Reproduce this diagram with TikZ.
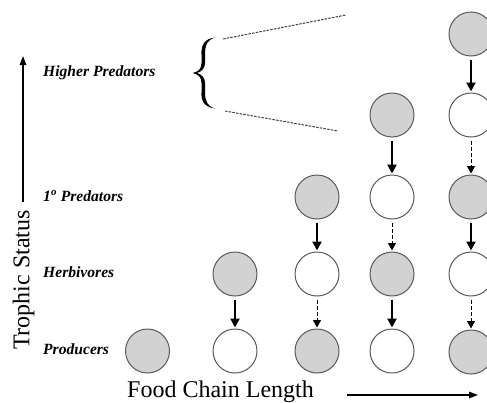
\documentclass[tikz,border=0pt]{standalone}
\usepackage{fontspec}
\setmainfont{Liberation Serif}
\usetikzlibrary{arrows.meta}
\definecolor{cfill}{HTML}{D2D2D2}
\definecolor{cline}{HTML}{5A5A5A}
\tikzset{
  sh/.style={circle,draw=cline,line width=1pt,fill=cfill,minimum size=44pt,inner sep=0pt},
  wh/.style={circle,draw=cline,line width=1pt,fill=white,minimum size=44pt,inner sep=0pt},
  strong/.style={line width=2.2pt,-{Triangle[length=9pt,width=9pt]},shorten <=3pt,shorten >=1pt},
  weak/.style={line width=1pt,dash pattern=on 4pt off 2.2pt,-{Triangle[length=7.5pt,width=8pt]},shorten <=3pt,shorten >=1pt},
  lvl/.style={font=\fontsize{15.6}{18}\selectfont\bfseries\itshape,anchor=base west,inner sep=0pt},
  big/.style={font=\fontsize{24}{28}\selectfont,inner sep=0pt},
  guide/.style={line width=1pt,dash pattern=on 2.5pt off 1.2pt,draw=black!75}
}
\begin{document}
\begin{tikzpicture}[x=1pt,y=-1pt]
\useasboundingbox (0,0) rectangle (487,402);
% level labels
\node[lvl] (lhp) at (43,76) {Higher Predators};
\node[lvl] (l1p) at (43,201) {1\textsuperscript{o} Predators};
\node[lvl] (lhe) at (43,277) {Herbivores};
\node[lvl] (lpr) at (43,354) {Producers};
% axes
\node[big,rotate=90] (ts) at (23.5,280) {Trophic Status};
\coordinate (tsA) at (23,202);
\coordinate (tsB) at (23,56);
\draw[line width=1.4pt,-{Triangle[length=9pt,width=6.5pt]}] (tsA) -- (tsB);
\node[big,anchor=base west] (fcl) at (127,397) {Food Chain Length};
\coordinate (fcA) at (347,395);
\coordinate (fcB) at (478,395);
\draw[line width=1.4pt,-{Triangle[length=9pt,width=6.5pt]}] (fcA) -- (fcB);
% brace
\fill (215,37.5) .. controls (204,39) and (201,45) .. (201.5,55) -- (201.5,63)
  .. controls (201.5,69) and (198,72) .. (192.5,73)
  .. controls (198,74) and (201.5,77) .. (201.5,83) -- (201.5,92)
  .. controls (201,101) and (204,107) .. (215,108.5)
  .. controls (207,106) and (205,101) .. (205,92) -- (205,83)
  .. controls (205,78) and (202,74.5) .. (197,73)
  .. controls (202,71.5) and (205,68) .. (205,63) -- (205,55)
  .. controls (205,45) and (207,40) .. (215,37.5) -- cycle;
\coordinate (bt) at (223,39);
\coordinate (bb) at (225,111);
\coordinate (gt) at (346,15);
\coordinate (gb) at (338,131);
\draw[guide] (bt) -- (gt);
\draw[guide] (bb) -- (gb);
% column 1
\node[sh] (a1) at (147.5,351) {};
% column 2
\node[sh] (b2) at (235,274) {};
\node[wh] (b1) at (235,351) {};
% column 3
\node[sh] (c3) at (317,197) {};
\node[wh] (c2) at (317,274) {};
\node[sh] (c1) at (317,351) {};
% column 4
\node[sh] (d4) at (392,115) {};
\node[wh] (d3) at (392,197) {};
\node[sh] (d2) at (392,274) {};
\node[wh] (d1) at (392,351) {};
% column 5
\node[sh] (e5) at (471,34) {};
\node[wh] (e4) at (471,115) {};
\node[sh] (e3) at (471,197) {};
\node[wh] (e2) at (471,274) {};
\node[sh] (e1) at (471,352) {};
% arrows
\draw[strong] (b2) -- (b1);
\draw[strong] (c3) -- (c2);
\draw[weak] (c2) -- (c1);
\draw[strong] (d4) -- (d3);
\draw[weak] (d3) -- (d2);
\draw[strong] (d2) -- (d1);
\draw[strong] (e5) -- (e4);
\draw[weak] (e4) -- (e3);
\draw[strong] (e3) -- (e2);
\draw[weak] (e2) -- (e1);
\end{tikzpicture}
\end{document}
